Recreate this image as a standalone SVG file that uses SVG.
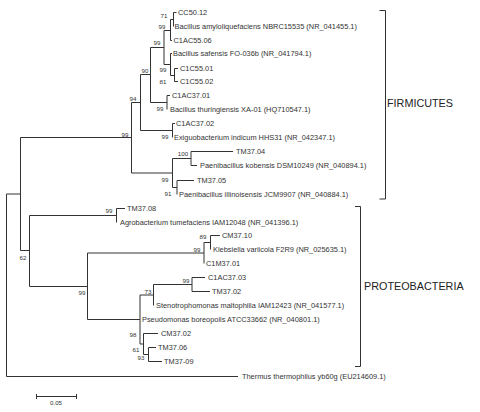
<svg xmlns="http://www.w3.org/2000/svg" width="480" height="412" viewBox="0 0 480 412">
<style>
.br{fill:none;stroke:#333;stroke-width:1}
.lf{font-family:"Liberation Sans",Arial,sans-serif;font-size:7.4px;fill:#333}
.bs{font-family:"Liberation Sans",Arial,sans-serif;font-size:6.2px;fill:#333;text-anchor:middle}
.cl{font-family:"Liberation Sans",Arial,sans-serif;font-size:10.8px;fill:#222}
</style>
<rect width="480" height="412" fill="#fff"/>
<g id="connectors" class="br">
<path d="M6.5 194V376.5H238M6.5 194H20.5M20.5 137.5V250.5"/>
<path d="M20.5 137.5H131.5M131.5 102.5V173"/>
<path d="M131.5 102.5H140.5M140.5 74.5V130.5"/>
<path d="M140.5 130.5H172.5M172.5 123.5V137.5"/>
<path d="M140.5 74.5H150.5M150.5 47.5V102.5"/>
<path d="M150.5 102.5H167M167 95.5V109.5"/>
<path d="M150.5 47.5H164M164 30.5V64.5"/>
<path d="M164 30.5H170.5M170.5 19.5V40.5"/>
<path d="M170.5 19.5H173.5M173.5 12.5V26.5"/>
<path d="M164 64.5H170.5M170.5 53.5V75.5"/>
<path d="M170.5 75.5H174.5M174.5 68.5V81.5"/>
<path d="M131.5 173H172.5M172.5 158.5V187.5"/>
<path d="M172.5 158.5H191M191 151.5V165.5"/>
<path d="M172.5 187.5H177M177 180.5V194.5"/>
<path d="M20.5 250.5H29.5M29.5 215.5V286.5"/>
<path d="M29.5 215.5H116.5M116.5 208.5V222.5"/>
<path d="M29.5 286.5H87.5M87.5 253V319.5"/>
<path d="M87.5 253H204M204 242.5V263.5"/>
<path d="M204 242.5H210.5M210.5 235.5V249.5"/>
<path d="M87.5 319.5H140M140 295V344"/>
<path d="M140 295H153.5M153.5 284.5V305.5"/>
<path d="M153.5 284.5H192M192 277.5V291.5"/>
<path d="M140 344H143.5M143.5 333.5V354.5"/>
<path d="M143.5 354.5H148.5M148.5 347.5V361.5"/>
<path d="M173.5 12.5H176.5M170.5 40.5H172M170.5 53.5H172M174.5 68.5H178M174.5 81.5H178M167 95.5H170M172.5 123.5H175M191 151.5H233M191 165.5H197M177 180.5H194"/>
<path d="M116.5 208.5H125M210.5 235.5H220M192 277.5H205M192 291.5H210M143.5 333.5H158M148.5 347.5H156M148.5 361.5H162"/>
</g>
<g id="leaf-cc5012"><text class="lf" x="178" y="15.1">CC50.12</text></g>
<g id="leaf-amylo"><text class="lf" x="174.5" y="29.1">Bacillus amyloliquefaciens NBRC15535 (NR_041455.1)</text></g>
<g id="leaf-c1ac5506"><text class="lf" x="173.5" y="43.1">C1AC55.06</text></g>
<g id="leaf-safensis"><text class="lf" x="173" y="56.1">Bacillus safensis FO-036b (NR_041794.1)</text></g>
<g id="leaf-c1c5501"><text class="lf" x="180" y="71.1">C1C55.01</text></g>
<g id="leaf-c1c5502"><text class="lf" x="180" y="84.1">C1C55.02</text></g>
<g id="leaf-c1ac3701"><text class="lf" x="172" y="98.1">C1AC37.01</text></g>
<g id="leaf-thuringiensis"><text class="lf" x="170" y="112.1">Bacillus thuringiensis XA-01 (HQ710547.1)</text></g>
<g id="leaf-c1ac3702"><text class="lf" x="176" y="126.1">C1AC37.02</text></g>
<g id="leaf-exiguo"><text class="lf" x="174" y="140.1">Exiguobacterium indicum HHS31 (NR_042347.1)</text></g>
<g id="leaf-tm3704"><text class="lf" x="236" y="154.1">TM37.04</text></g>
<g id="leaf-kobensis"><text class="lf" x="200" y="168.1">Paenibacillus kobensis DSM10249 (NR_040894.1)</text></g>
<g id="leaf-tm3705"><text class="lf" x="197" y="183.1">TM37.05</text></g>
<g id="leaf-illinoisensis"><text class="lf" x="179" y="197.1">Paenibacillus illinoisensis JCM9907 (NR_040884.1)</text></g>
<g id="leaf-tm3708"><text class="lf" x="127" y="211.1">TM37.08</text></g>
<g id="leaf-agro"><text class="lf" x="120" y="225.1">Agrobacterium tumefaciens IAM12048 (NR_041396.1)</text></g>
<g id="leaf-cm3710"><text class="lf" x="222" y="238.1">CM37.10</text></g>
<g id="leaf-klebsiella"><text class="lf" x="213" y="252.1">Klebsiella variicola F2R9 (NR_025635.1)</text></g>
<g id="leaf-c1m3701"><text class="lf" x="206" y="266.1">C1M37.01</text></g>
<g id="leaf-c1ac3703"><text class="lf" x="208" y="280.1">C1AC37.03</text></g>
<g id="leaf-tm3702"><text class="lf" x="212" y="294.1">TM37.02</text></g>
<g id="leaf-steno"><text class="lf" x="156" y="308.1">Stenotrophomonas maltophilia IAM12423 (NR_041577.1)</text></g>
<g id="leaf-pseudo"><text class="lf" x="142" y="322.1">Pseudomonas boreopolis ATCC33662 (NR_040801.1)</text></g>
<g id="leaf-cm3702"><text class="lf" x="161" y="336.1">CM37.02</text></g>
<g id="leaf-tm3706"><text class="lf" x="158" y="350.1">TM37.06</text></g>
<g id="leaf-tm3709"><text class="lf" x="164" y="364.1">TM37-09</text></g>
<g id="leaf-thermus"><text class="lf" x="242" y="379.1">Thermus thermophilus yb60g (EU214609.1)</text></g>
<g id="bootstrap">
<text class="bs" x="164" y="18.2">71</text>
<text class="bs" x="162" y="29.2">99</text>
<text class="bs" x="157" y="45.2">99</text>
<text class="bs" x="145" y="73.2">90</text>
<text class="bs" x="163" y="72.2">99</text>
<text class="bs" x="163" y="84.2">81</text>
<text class="bs" x="133" y="101.2">94</text>
<text class="bs" x="160" y="111.2">99</text>
<text class="bs" x="125" y="137.2">99</text>
<text class="bs" x="165" y="139.2">99</text>
<text class="bs" x="183" y="156.2">100</text>
<text class="bs" x="165" y="182.2">99</text>
<text class="bs" x="168" y="196.2">91</text>
<text class="bs" x="109" y="213.2">99</text>
<text class="bs" x="23" y="260.2">62</text>
<text class="bs" x="203" y="239.2">89</text>
<text class="bs" x="197" y="252.2">99</text>
<text class="bs" x="82" y="295.2">99</text>
<text class="bs" x="186" y="283.2">99</text>
<text class="bs" x="148" y="294.2">73</text>
<text class="bs" x="133" y="337.2">98</text>
<text class="bs" x="136" y="352.2">61</text>
<text class="bs" x="141" y="360.2">93</text>
</g>
<g id="clade-firmicutes">
<path class="br" d="M379.5 10.5H385.5V199H379.5"/>
<text class="cl" x="387" y="107">FIRMICUTES</text>
</g>
<g id="clade-proteobacteria">
<path class="br" d="M355 206.5H360.5V366.5H355"/>
<text class="cl" x="364" y="290">PROTEOBACTERIA</text>
</g>
<g id="scale-bar">
<path class="br" d="M36 396.5H76.5M36.5 394V399M76.5 394V399"/>
<text class="bs" x="56" y="405">0.05</text>
</g>
</svg>
